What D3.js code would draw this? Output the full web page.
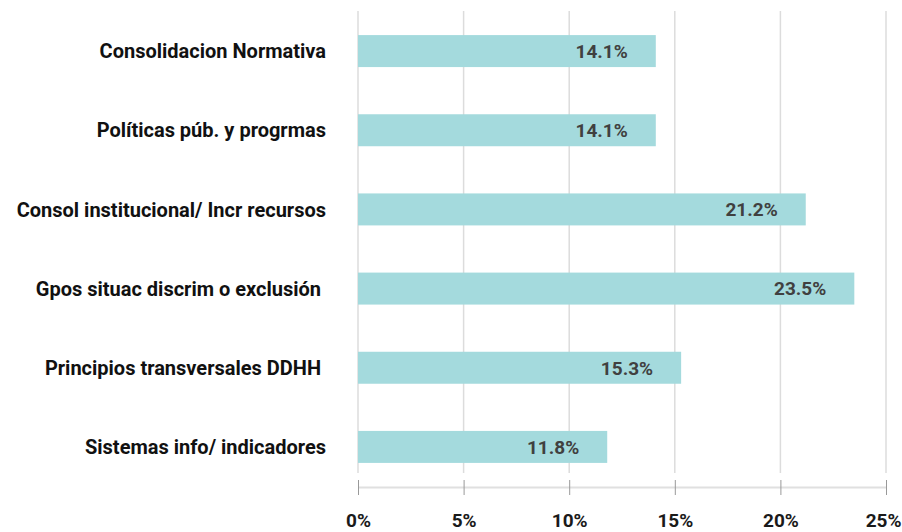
<!DOCTYPE html>
<html>
<head>
<meta charset="utf-8">
<script src="https://cdn.jsdelivr.net/npm/d3@7"></script>
<style>
  body { margin: 0; background: #fff; }
  text { font-family: Roboto, "Noto Sans", sans-serif; font-weight: 700; }
</style>
</head>
<body>
<div id="chart"></div>
<script>
const categories = [
  'Consolidacion Normativa',
  'Políticas púb. y progrmas',
  'Consol institucional/ Incr recursos',
  'Gpos situac discrim o exclusión ',
  'Principios transversales DDHH ',
  'Sistemas info/ indicadores',
];
const values = [14.1, 14.1, 21.2, 23.5, 15.3, 11.8];
const ticks = [0, 5, 10, 15, 20, 25];

const width = 902, height = 532;

const svg = d3.select('#chart').append('svg')
  .attr('width', width)
  .attr('height', height);

const x = d3.scaleLinear().domain([0, 25]).range([358, 886]);

const y = d3.scaleBand()
  .domain(categories)
  .range([11.5, 486.5])
  .paddingInner(0.596)
  .paddingOuter(0.298);

// gridlines
svg.append('g')
  .selectAll('line')
  .data(ticks)
  .join('line')
    .attr('x1', d => x(d))
    .attr('x2', d => x(d))
    .attr('y1', 11)
    .attr('y2', 473)
    .attr('stroke', '#dcdcdc')
    .attr('stroke-width', 1.5);

// bottom axis
const axis = svg.append('g')
  .attr('transform', 'translate(0,487)')
  .call(d3.axisBottom(x).tickValues(ticks).tickSize(0).tickFormat(d => d + '%'));

axis.select('.domain')
  .attr('stroke', '#e0e0e0')
  .attr('stroke-width', 2);

axis.selectAll('.tick').append('line')
  .attr('y1', -7)
  .attr('y2', 8)
  .attr('stroke', '#999')
  .attr('stroke-width', 1);

axis.selectAll('.tick text')
  .attr('y', 40)
  .attr('dy', 0)
  .attr('fill', '#1a1a1a')
  .style('font-size', '19px')
  .style('font-weight', 700)
  .style('font-family', 'Roboto, sans-serif');

// last label would run past the right edge
axis.selectAll('.tick text')
  .filter(d => d === 25)
  .attr('text-anchor', 'end')
  .attr('x', 15);

// bars
svg.append('g')
  .selectAll('rect')
  .data(values)
  .join('rect')
    .attr('x', x(0))
    .attr('y', (d, i) => y(categories[i]))
    .attr('width', d => x(d) - x(0))
    .attr('height', y.bandwidth())
    .attr('fill', '#a4dadd');

// value labels
svg.append('g')
  .selectAll('text')
  .data(values)
  .join('text')
    .attr('x', d => x(d) - 28)
    .attr('y', (d, i) => y(categories[i]) + y.bandwidth() / 2)
    .attr('dy', '0.36em')
    .attr('text-anchor', 'end')
    .attr('fill', '#404040')
    .style('font-size', '19px')
    .text(d => d.toFixed(1) + '%');

// category labels
svg.append('g')
  .selectAll('text')
  .data(categories)
  .join('text')
    .attr('x', 326)
    .attr('y', d => y(d) + y.bandwidth() / 2)
    .attr('dy', '0.36em')
    .attr('text-anchor', 'end')
    .attr('fill', '#111')
    .style('font-size', '20px')
    .style('white-space', 'pre')
    .text(d => d);
</script>
</body>
</html>
